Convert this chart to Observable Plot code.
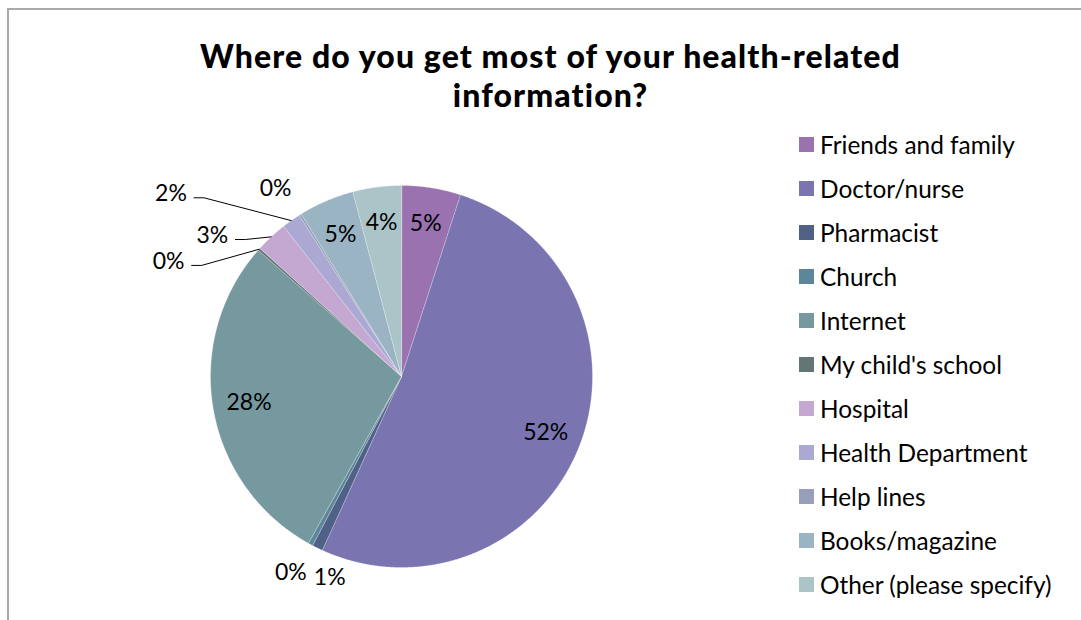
<!DOCTYPE html>
<html><head><meta charset="utf-8">
<script src="https://cdn.jsdelivr.net/npm/d3@7"></script>
<script src="https://cdn.jsdelivr.net/npm/@observablehq/plot@0.6"></script>
<style>
body{margin:0;background:#fff;font-family:Lato,"Open Sans",sans-serif;}
#wrap{position:relative;width:1081px;height:620px;overflow:hidden;background:#fff;}
#frame{position:absolute;left:7px;top:8px;width:1200px;height:700px;border-left:2px solid #a9a9a9;border-top:2px solid #a9a9a9;}
#chart{position:absolute;left:0;top:0;}
#title{position:absolute;left:0;width:1101px;top:36px;text-align:center;font-weight:900;font-size:32px;letter-spacing:1.1px;line-height:39px;color:#000;}
#legend{position:absolute;left:799px;top:122px;}
.row{display:flex;align-items:center;height:44px;font-size:24.4px;color:#000;white-space:nowrap;}
.sw{width:15px;height:15px;margin-right:6px;flex:none;}
</style></head>
<body>
<div id="wrap">
  <div id="frame"></div>
  <div id="chart"></div>
  <div id="title">Where do you get most of your health-related<br>information?</div>
  <div id="legend"></div>
</div>
<script>
const titleText = "Where do you get most of your health-related information?";
const names = ["Friends and family","Doctor/nurse","Pharmacist","Church","Internet","My child's school","Hospital","Health Department","Help lines","Books/magazine","Other (please specify)"];
const values = [5.0, 51.8, 0.9, 0.4, 28.4, 0.2, 2.7, 1.6, 0.2, 4.7, 4.1];
const colors = ["#9b72b0","#7a74b0","#4f6186","#5c879a","#76999f","#627676","#c4a8d2","#aba8d4","#97a0b8","#9ab4c4","#aac4c8"];
// label placement: null = inside; otherwise [angle (deg, clockwise from top), radius (fraction of pie radius), leader line]
const labelPlacement = [null, null, [199.6,1.12,false], [209.4,1.18,false], null, [296.3,1.36,true], [306.7,1.235,true], [308.4,1.54,true], [326.2,1.185,false], null, null];

const total = d3.sum(values);
let acc = 0;
const slices = names.map((n,i)=>{
  const a0 = acc/total*2*Math.PI; acc += values[i];
  const a1 = acc/total*2*Math.PI;
  return {name:n, value:values[i], a0, a1, mid:(a0+a1)/2, i};
});
const poly = [];
for (const s of slices){
  poly.push({name:s.name, x:0, y:0});
  const n = Math.max(2, Math.ceil((s.a1-s.a0)/0.004));
  for (let k=0;k<=n;k++){
    const a = s.a0+(s.a1-s.a0)*k/n;
    poly.push({name:s.name, x:Math.sin(a), y:Math.cos(a)});
  }
}
const px = 1/191;
const labels = [], leaders = [];
for (const s of slices){
  const p = labelPlacement[s.i];
  const txt = Math.round(s.value/total*100)+"%";
  if (!p){
    const r = 0.81;
    labels.push({t:txt, x:r*Math.sin(s.mid), y:r*Math.cos(s.mid)});
  } else {
    const a = p[0]*Math.PI/180, r = p[1];
    const lx = r*Math.sin(a), ly = r*Math.cos(a);
    labels.push({t:txt, x:lx, y:ly});
    if (p[2]){
      leaders.push({name:s.name, x:lx+23*px, y:ly-4*px});
      leaders.push({name:s.name, x:lx+33*px, y:ly-4*px});
      leaders.push({name:s.name, x:Math.sin(s.mid), y:Math.cos(s.mid)});
    }
  }
}

const chart = Plot.plot({
  width:1081, height:620, margin:0,
  x:{domain:[-1,1], range:[210,592], axis:null},
  y:{domain:[-1,1], range:[567,185], axis:null},
  color:{domain:names, range:colors},
  style:{background:"transparent"},
  marks:[
    Plot.line(poly,{x:"x",y:"y",z:"name",fill:"name",stroke:"#ffffff",strokeWidth:0.6,strokeOpacity:0.45,curve:"linear-closed"}),
    Plot.line(leaders,{x:"x",y:"y",z:"name",stroke:"#000",strokeWidth:1}),
    Plot.text(labels,{x:"x",y:"y",text:"t",fontSize:23,fontFamily:"Lato",fill:"#000",textAnchor:"middle",lineAnchor:"middle"})
  ]
});
document.getElementById("chart").appendChild(chart);

const leg = d3.select("#legend");
names.forEach((n,i)=>{
  const row = leg.append("div").attr("class","row");
  row.append("div").attr("class","sw").style("background",colors[i]);
  row.append("span").text(n);
});
</script>
</body></html>
